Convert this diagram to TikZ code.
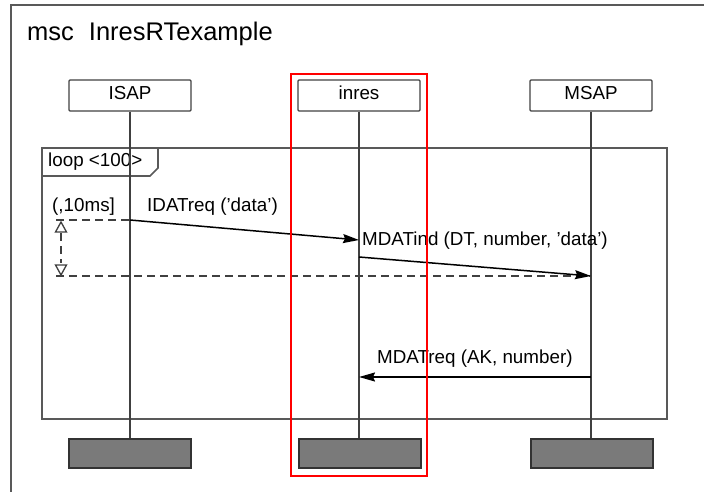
\documentclass[tikz,border=0pt]{standalone}
\usepackage{fontspec}
\setmainfont{Liberation Sans}
\usetikzlibrary{arrows.meta}
\begin{document}
\begin{tikzpicture}[x=1pt,y=-1pt,
  head/.style={draw=black!75, line width=1.4pt, minimum width=122pt, minimum height=31pt, inner sep=0pt,
    font=\fontsize{18.8}{20}\selectfont, text height=13.5pt, text depth=6pt, rounded corners=1pt},
  stopbox/.style={draw=black!80, line width=1.8pt, fill=black!52, minimum width=122pt, minimum height=29pt, inner sep=0pt},
  life/.style={draw=black!75, line width=1.3pt},
  msg/.style={draw=black, line width=1.5pt, -{Stealth[length=16pt,width=9pt,inset=2pt]}},
  lbl/.style={font=\fontsize{18.8}{20}\selectfont, anchor=base west, inner sep=0pt},
  frameline/.style={draw=black!65, line width=1.7pt},
  timerdash/.style={draw=black!75, line width=1.3pt, dash pattern=on 8pt off 5pt},
  timertri/.style={draw=black!75, line width=1.3pt, fill=white},
  hilite/.style={draw=red, line width=1.8pt},
]
\useasboundingbox (0,0) rectangle (704,492);
% outer msc frame
\draw[frameline] (11,530) -- (11,5) -- (730,5);
\node[font=\fontsize{25.5}{28}\selectfont, anchor=base west, inner sep=0pt] (title) at (27,41) {msc\hspace{15pt}InresRTexample};
% loop frame
\draw[frameline] (42,148) rectangle (667,419);
\draw[frameline] (158,148) -- (158,168) -- (150,176) -- (42,176);
\node[lbl] (looplbl) at (48,167) {loop <100>};
% heads
\node[head] (ISAP) at (130,95.5) {ISAP};
\node[head] (inres) at (359,95.5) {inres};
\node[head] (MSAP) at (591,95.5) {MSAP};
% stops
\node[stopbox] (stopI) at (130,453.5) {};
\node[stopbox] (stopN) at (360,453.5) {};
\node[stopbox] (stopM) at (592,453.5) {};
% lifelines
\draw[life] (ISAP.south) -- (ISAP.south |- stopI.north);
\draw[life] (inres.south) -- (inres.south |- stopN.north);
\draw[life] (MSAP.south) -- (MSAP.south |- stopM.north);
% message points
\coordinate (i1) at (ISAP.center |- 0,220);
\coordinate (n1) at (inres.center |- 0,240);
\coordinate (n2) at (inres.center |- 0,257);
\coordinate (m2) at (MSAP.center |- 0,276);
\coordinate (m3) at (MSAP.center |- 0,377);
\coordinate (n3) at (inres.center |- 0,377);
% timer
\coordinate (t1) at (56,220);
\coordinate (t2) at (56,276);
\draw[timerdash] (t1) -- (i1);
\draw[timerdash] (t2) -- (m2);
\draw[timerdash] (61,233) -- (61,263);
\draw[timertri] (61,222) -- (66.5,232) -- (55.5,232) -- cycle;
\draw[timertri] (55.5,265) -- (66.5,265) -- (61,275) -- cycle;
\node[lbl] (timerlbl) at (52,211) {(,10ms]};
% messages
\draw[msg] (i1) -- (n1);
\node[lbl] (l1) at (147,211) {IDATreq ('data')};
\draw[msg] (n2) -- (m2);
\node[lbl] (l2) at (362,245) {MDATind (DT, number, 'data')};
\draw[msg] (m3) -- (n3);
\node[lbl] (l3) at (377,363) {MDATreq (AK, number)};
% highlight
\draw[hilite] (291,74) rectangle (427,476);
\end{tikzpicture}
\end{document}
